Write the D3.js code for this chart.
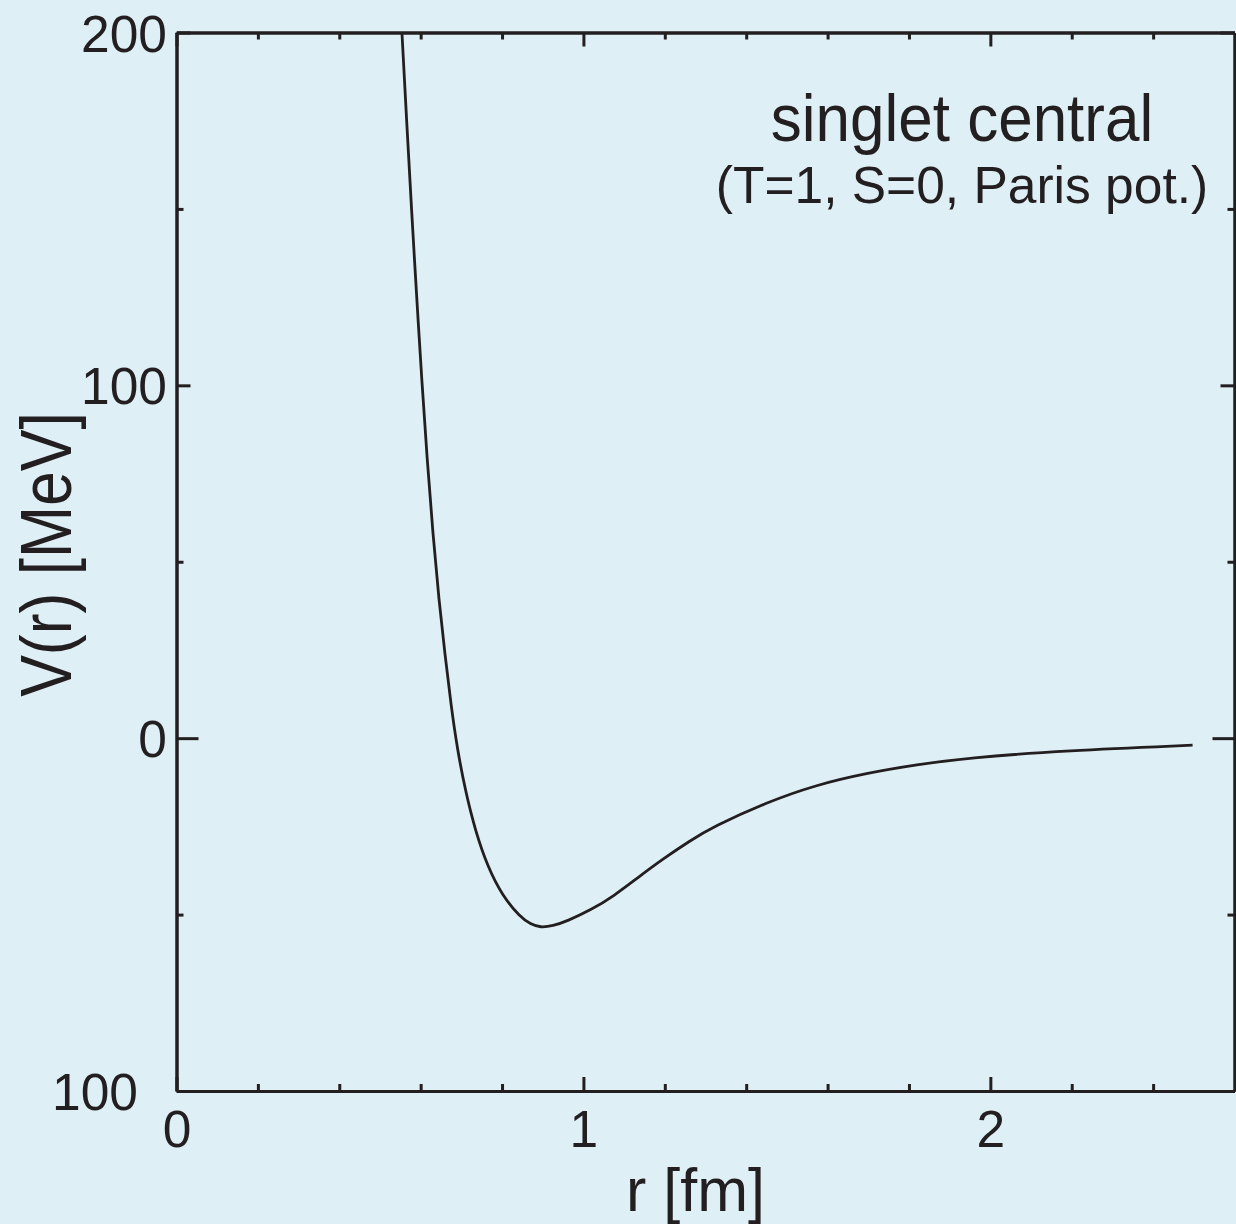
<!DOCTYPE html>
<html>
<head>
<meta charset="utf-8">
<script src="https://cdn.jsdelivr.net/npm/d3@7"></script>
<style>
  html, body { margin: 0; padding: 0; background: #dfeff6; }
  svg { display: block; }
  text { font-family: "Liberation Sans", Arial, Helvetica, sans-serif; fill: #231f20; }
</style>
</head>
<body>
<svg id="chart" width="1236" height="1224"></svg>
<script>
// Singlet central NN potential, r in fm and V(r) in MeV
const rValues = [0.554, 0.566, 0.578, 0.590, 0.603, 0.616, 0.630, 0.645, 0.660, 0.675,
                 0.690, 0.710, 0.735, 0.765, 0.800, 0.845, 0.870, 0.894, 0.925, 0.959,
                 1.020, 1.074, 1.135, 1.196, 1.260, 1.319, 1.450, 1.570, 1.696, 1.820,
                 1.941, 2.187, 2.497];
const vValues = [200.0, 174.0, 149.0, 125.5, 101.0, 79.0, 58.0, 39.0, 23.5, 9.0,
                 -3.0, -15.0, -26.5, -36.5, -44.5, -50.8, -52.7, -53.7, -53.2, -51.9,
                 -48.6, -44.8, -39.4, -34.2, -29.2, -25.1, -18.2, -13.3, -9.9, -7.5,
                 -5.6, -3.5, -2.0];

const xMajorTicks = [0, 1, 2];
const xMajorLabels = ["0", "1", "2"];
const xMinorTicks = [0.2, 0.4, 0.6, 0.8, 1.2, 1.4, 1.6, 1.8, 2.2, 2.4];
const yMajorTicks = [-100, 0, 100, 200];
const yMajorLabels = ["100", "0", "100", "200"];
const yMinorTicks = [-50, 50, 150];

const titleText = "singlet central";
const subtitleText = "(T=1, S=0, Paris pot.)";
const xLabelText = "r [fm]";
const yLabelText = "V(r) [MeV]";

const ink = "#231f20";
const frame = { left: 176.5, right: 1234.5, top: 32.5, bottom: 1091 };

const svg = d3.select("#chart");

const x = d3.scaleLinear().domain([0, 2.6]).range([frame.left, frame.right]);
const y = d3.scaleLinear().domain([-100, 200]).range([frame.bottom, frame.top]);

const majorLen = 14, minorLen = 7, zeroLen = 22;

function styleAxis(g) {
  g.selectAll("path.domain").attr("stroke", ink).attr("stroke-width", 3);
  g.selectAll(".tick line").attr("stroke", ink).attr("stroke-width", 3);
  g.selectAll(".tick text").attr("fill", ink).style("font-size", "51.5px")
    .style("font-family", '"Liberation Sans", Arial, Helvetica, sans-serif');
}

// bottom axis: major ticks with labels
svg.append("g").attr("transform", `translate(0,${frame.bottom})`)
  .call(d3.axisBottom(x).tickValues(xMajorTicks).tickSizeInner(-majorLen).tickSizeOuter(0)
    .tickPadding(19).tickFormat((d, i) => xMajorLabels[i]))
  .call(styleAxis);

svg.append("g").attr("transform", `translate(0,${frame.bottom})`)
  .call(d3.axisBottom(x).tickValues(xMinorTicks).tickSizeInner(-minorLen).tickSizeOuter(0).tickFormat(""))
  .call(styleAxis);

// top axis
svg.append("g").attr("transform", `translate(0,${frame.top})`)
  .call(d3.axisTop(x).tickValues(xMajorTicks).tickSizeInner(-majorLen).tickSizeOuter(0).tickFormat(""))
  .call(styleAxis);
svg.append("g").attr("transform", `translate(0,${frame.top})`)
  .call(d3.axisTop(x).tickValues(xMinorTicks).tickSizeInner(-minorLen).tickSizeOuter(0).tickFormat(""))
  .call(styleAxis);

// left axis: major ticks with labels, zero tick drawn longer
const gLeft = svg.append("g").attr("transform", `translate(${frame.left},0)`)
  .call(d3.axisLeft(y).tickValues(yMajorTicks).tickSizeInner(-majorLen).tickSizeOuter(0)
    .tickPadding(9.5).tickFormat((d, i) => yMajorLabels[i]))
  .call(styleAxis);
gLeft.selectAll(".tick").filter(d => d === 0).select("line").attr("x2", zeroLen);
gLeft.selectAll(".tick text").attr("dy", "0.36em");
gLeft.selectAll(".tick").filter(d => d === -100).select("text").attr("x", -38.5);

svg.append("g").attr("transform", `translate(${frame.left},0)`)
  .call(d3.axisLeft(y).tickValues(yMinorTicks).tickSizeInner(-minorLen).tickSizeOuter(0).tickFormat(""))
  .call(styleAxis);

// right axis
const gRight = svg.append("g").attr("transform", `translate(${frame.right},0)`)
  .call(d3.axisRight(y).tickValues(yMajorTicks).tickSizeInner(-majorLen).tickSizeOuter(0).tickFormat(""))
  .call(styleAxis);
gRight.selectAll(".tick").filter(d => d === 0).select("line").attr("x2", -zeroLen);
svg.append("g").attr("transform", `translate(${frame.right},0)`)
  .call(d3.axisRight(y).tickValues(yMinorTicks).tickSizeInner(-minorLen).tickSizeOuter(0).tickFormat(""))
  .call(styleAxis);

// potential curve
const points = rValues.map((r, i) => [r, vValues[i]]);
const line = d3.line()
  .x(d => x(d[0]))
  .y(d => y(d[1]))
  .curve(d3.curveBasis);

svg.append("path")
  .datum(points)
  .attr("d", line)
  .attr("fill", "none")
  .attr("stroke", ink)
  .attr("stroke-width", 2.8)
  .attr("stroke-linejoin", "round");

// annotation
svg.append("text")
  .attr("transform", "translate(962,141) scale(1,1.07)")
  .attr("text-anchor", "middle")
  .style("font-size", "62px")
  .text(titleText);

svg.append("text")
  .attr("x", 962).attr("y", 203)
  .attr("text-anchor", "middle")
  .style("font-size", "51.5px")
  .text(subtitleText);

// axis titles
svg.append("text")
  .attr("x", 695.5).attr("y", 1211)
  .attr("text-anchor", "middle")
  .style("font-size", "61px")
  .text(xLabelText);

svg.append("text")
  .attr("transform", "translate(71,554.5) rotate(-90) scale(1,1.15)")
  .attr("text-anchor", "middle")
  .style("font-size", "62.5px")
  .text(yLabelText);
</script>
</body>
</html>
